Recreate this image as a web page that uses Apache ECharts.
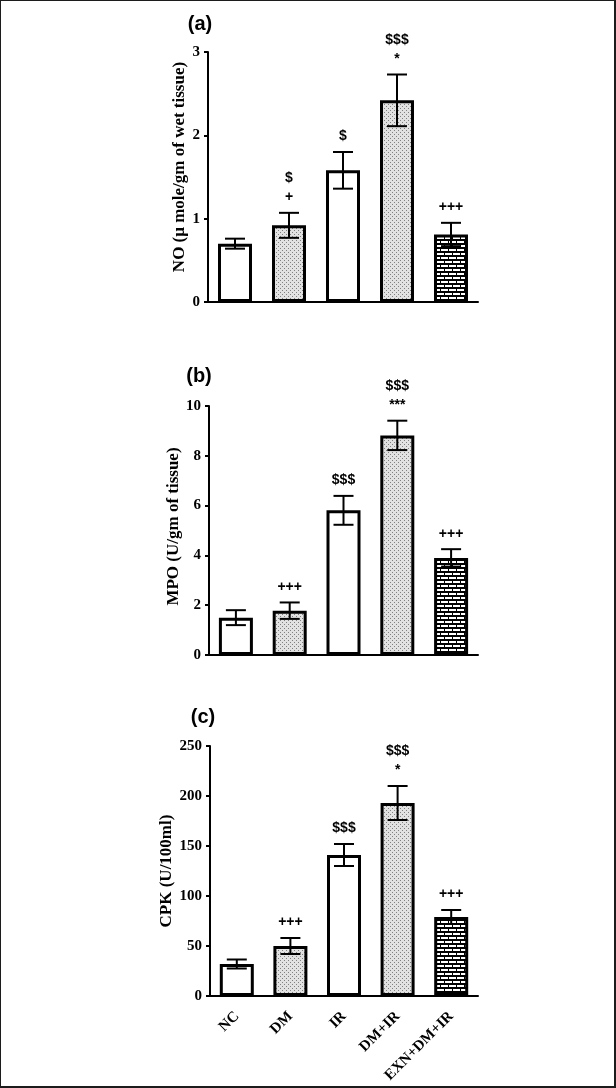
<!DOCTYPE html>
<html>
<head>
<meta charset="utf-8">
<script src="https://cdn.jsdelivr.net/npm/echarts@6/dist/echarts.min.js"></script>
<style>
html,body{margin:0;padding:0;background:#fff;}
#wrap{position:relative;width:616px;height:1088px;}
#c{position:absolute;left:0;top:0;width:616px;height:1088px;}
#frame{position:absolute;left:0;top:0;width:616px;height:1088px;box-sizing:border-box;border-style:solid;border-color:#1c1c1c;border-width:1px 2px 2px 1px;pointer-events:none;}
</style>
</head>
<body>
<div id="wrap"><div id="c"></div><div id="frame"></div></div>
<script>
// ---- data ----
const categories = ['NC', 'DM', 'IR', 'DM+IR', 'EXN+DM+IR'];

const noMean = [0.70, 0.92, 1.58, 2.42, 0.81];
const noErr  = [0.06, 0.15, 0.22, 0.31, 0.14];
const noSig  = ['', '$\n+', '$', '$$$\n*', '+++'];

const mpoMean = [1.50, 1.78, 5.81, 8.82, 3.90];
const mpoErr  = [0.30, 0.33, 0.58, 0.59, 0.35];
const mpoSig  = ['', '+++', '$$$', '$$$\n***', '+++'];

const cpkMean = [32, 50, 141, 193, 79];
const cpkErr  = [4.5, 8, 11, 17, 7];
const cpkSig  = ['', '+++', '$$$', '$$$\n*', '+++'];

const panelLabels = ['(a)', '(b)', '(c)'];
const yNames = ['NO (\u03bc mole/gm of wet tissue)', 'MPO (U/gm of tissue)', 'CPK (U/100ml)'];
const yMax = [3, 10, 250];
const yInterval = [1, 2, 50];

// ---- patterns ----
function stipple() {
  const c = document.createElement('canvas'); c.width = 4; c.height = 4;
  const g = c.getContext('2d');
  g.fillStyle = '#e2e2e2'; g.fillRect(0, 0, 4, 4);
  g.fillStyle = '#808080'; g.fillRect(0, 0, 1, 1); g.fillRect(2, 2, 1, 1);
  return c;
}
function brick() {
  const c = document.createElement('canvas'); c.width = 8; c.height = 8;
  const g = c.getContext('2d');
  g.fillStyle = '#000'; g.fillRect(0, 0, 8, 8);
  g.fillStyle = '#fff';
  g.fillRect(1, 1, 7, 2);
  g.fillRect(5, 5, 7, 2); g.fillRect(-3, 5, 7, 2);
  return c;
}
const white = '#ffffff';
const dot = { image: stipple(), repeat: 'repeat' };
const brk = { image: brick(), repeat: 'repeat' };
const fills = [white, dot, white, dot, brk];

const means = [noMean, mpoMean, cpkMean];
const errs = [noErr, mpoErr, cpkErr];
const sigs = [noSig, mpoSig, cpkSig];

const grids = [
  { left: 208, top: 52, width: 270, height: 250 },
  { left: 209, top: 406, width: 269, height: 249 },
  { left: 210, top: 746, width: 268, height: 250 }
];
const nameGaps = [17, 27, 35];
const namePads = [[0, 0, 0, 20], [0, 0, 0, 8], [0, 0, 0, 0]];
const serif = '"Liberation Serif", "Times New Roman", serif';
const sans = '"Liberation Sans", Arial, sans-serif';

const xAxes = [], yAxes = [], series = [];
for (let p = 0; p < 3; p++) {
  xAxes.push({
    type: 'category', gridIndex: p, data: categories,
    axisLine: { lineStyle: { color: '#000', width: 2 } },
    axisTick: { alignWithLabel: true, length: 5, lineStyle: { color: '#000', width: 2 } },
    axisLabel: {
      show: p === 2, rotate: 45, margin: 18, interval: 0,
      color: '#000', fontFamily: serif, fontWeight: 'bold', fontSize: 15
    }
  });
  yAxes.push({
    type: 'value', gridIndex: p, min: 0, max: yMax[p], interval: yInterval[p],
    name: yNames[p], nameLocation: 'middle', nameGap: nameGaps[p],
    nameTextStyle: { color: '#000', fontFamily: serif, fontWeight: 'bold', fontSize: 17, padding: namePads[p] },
    axisLine: { show: true, lineStyle: { color: '#000', width: 2 } },
    axisTick: { show: true, length: 4, lineStyle: { color: '#000', width: 2 } },
    axisLabel: { color: '#000', fontFamily: serif, fontWeight: 'bold', fontSize: 15, margin: 8 },
    splitLine: { show: false }
  });
  series.push({
    type: 'bar', xAxisIndex: p, yAxisIndex: p, barWidth: 34,
    data: means[p].map((v, i) => ({ value: v, itemStyle: { color: fills[i] } })),
    itemStyle: { borderColor: '#000', borderWidth: 3 },
    silent: true, animation: false
  });
  const sig = sigs[p];
  series.push({
    type: 'custom', xAxisIndex: p, yAxisIndex: p, animation: false, silent: true,
    data: means[p].map((v, i) => [i, v, errs[p][i]]),
    z: 10,
    renderItem: function (params, api) {
      const i = api.value(0), m = api.value(1), e = api.value(2);
      const top = api.coord([i, m + e]);
      const bot = api.coord([i, m - e]);
      const hw = 10;
      const st = { stroke: '#000', lineWidth: 2 };
      const children = [
        { type: 'line', shape: { x1: top[0], y1: top[1], x2: bot[0], y2: bot[1] }, style: st },
        { type: 'line', shape: { x1: top[0] - hw, y1: top[1], x2: top[0] + hw, y2: top[1] }, style: st },
        { type: 'line', shape: { x1: bot[0] - hw, y1: bot[1], x2: bot[0] + hw, y2: bot[1] }, style: st }
      ];
      const s = sig[params.dataIndex];
      if (s) {
        children.push({
          type: 'text', x: top[0], y: top[1] - 6,
          style: { text: s, align: 'center', verticalAlign: 'bottom', lineHeight: 19,
                   font: 'bold 14px ' + sans, fill: '#000' }
        });
      }
      return { type: 'group', children: children };
    }
  });
}

const chart = echarts.init(document.getElementById('c'), null, { renderer: 'canvas' });
chart.setOption({
  backgroundColor: '#fff',
  animation: false,
  grid: grids,
  xAxis: xAxes,
  yAxis: yAxes,
  series: series,
  graphic: [
    { type: 'text', x: 200, y: 24, style: { text: panelLabels[0], align: 'center', verticalAlign: 'middle', font: 'bold 20px ' + sans, fill: '#000' } },
    { type: 'text', x: 199, y: 376, style: { text: panelLabels[1], align: 'center', verticalAlign: 'middle', font: 'bold 20px ' + sans, fill: '#000' } },
    { type: 'text', x: 203, y: 717, style: { text: panelLabels[2], align: 'center', verticalAlign: 'middle', font: 'bold 20px ' + sans, fill: '#000' } }
  ]
});
</script>
</body>
</html>
